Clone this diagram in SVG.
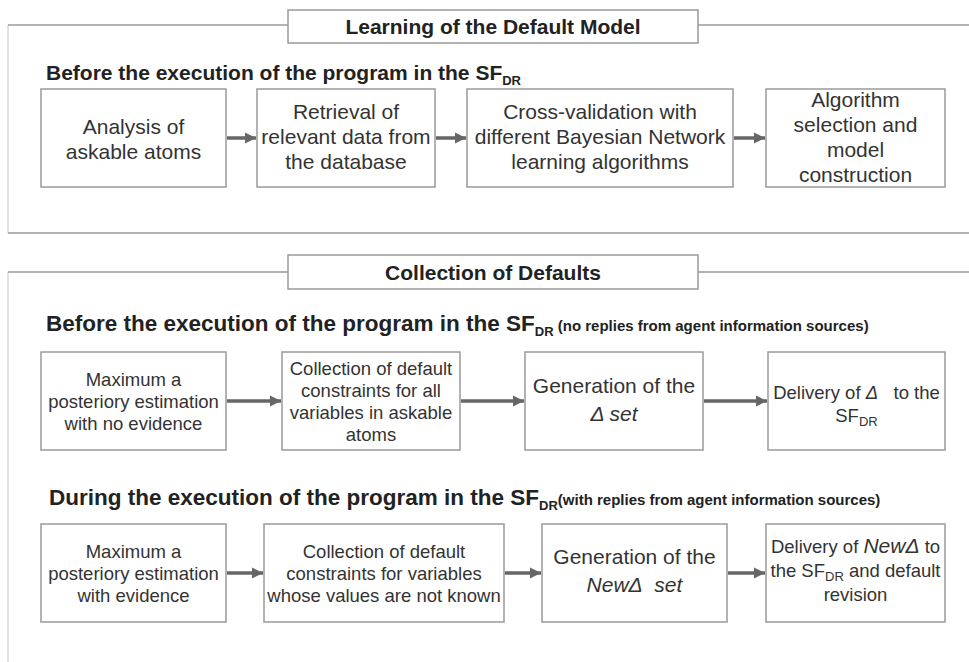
<svg xmlns="http://www.w3.org/2000/svg" width="969" height="662" viewBox="0 0 969 662">
  <style>
    .frame { fill: none; stroke: #9a9a9a; stroke-width: 1.6; }
    .side { fill: none; stroke: #d0d0d0; stroke-width: 1.2; }
    .box { fill: #ffffff; stroke: #9a9a9a; stroke-width: 1.5; }
    .title { font-family: "Liberation Sans", Arial, sans-serif; font-size: 21px; font-weight: bold; fill: #222; text-anchor: middle; }
    .head { font-family: "Liberation Sans", Arial, sans-serif; font-size: 21px; font-weight: bold; fill: #222; }
    .head2 { font-size: 22.5px; }
    .small { font-size: 15px; }
    .sub { font-size: 13px; }
    .lg { font-family: "Liberation Sans", Arial, sans-serif; font-size: 21px; fill: #333; text-anchor: middle; }
    .md { font-family: "Liberation Sans", Arial, sans-serif; font-size: 18.5px; fill: #333; text-anchor: middle; }
    .it { font-style: italic; }
    .conn { stroke: #666; stroke-width: 3.5; fill: none; marker-end: url(#ah); }
  </style>
  <defs>
    <marker id="ah" viewBox="0 0 10 10" refX="10" refY="5" markerWidth="3.2" markerHeight="3.2" markerUnits="strokeWidth" orient="auto">
      <path d="M0,0 L10,5 L0,10 z" fill="#666"/>
    </marker>
  </defs>

  <rect width="969" height="662" fill="#ffffff"/>

  <!-- Section 1 frame: Learning of the Default Model -->
  <g id="section-learning">
    <path class="side" d="M8,25 V233"/>
    <path class="frame" d="M8,25 H288 M698,25 H969 M8,233 H969"/>
    <rect class="box" x="288" y="10" width="410" height="33"/>
    <text class="title" x="493" y="34">Learning of the Default Model</text>
    <text class="head" x="46" y="80">Before the execution of the program in the SF<tspan class="sub" dy="5">DR</tspan></text>
  </g>

  <!-- Section 2 frame: Collection of Defaults -->
  <g id="section-collection">
    <path class="side" d="M8,272 V662"/>
    <path class="frame" d="M8,272 H288 M698,272 H969"/>
    <rect class="box" x="288" y="255" width="410" height="34"/>
    <text class="title" x="493" y="280">Collection of Defaults</text>
    <text class="head head2" x="46" y="331">Before the execution of the program in the SF<tspan class="sub" dy="5">DR</tspan><tspan class="small" dy="-5"> (no replies from agent information sources)</tspan></text>
    <text class="head head2" x="49" y="505">During the execution of the program in the SF<tspan class="sub" dy="5">DR</tspan><tspan class="small" dy="-5">(with replies from agent information sources)</tspan></text>
  </g>

  <!-- Row 1 -->
  <g id="n-analysis">
    <rect class="box" x="41" y="89" width="185" height="98"/>
    <text class="lg" x="133.5" y="134">Analysis of</text>
    <text class="lg" x="133.5" y="159">askable atoms</text>
  </g>
  <g id="n-retrieval">
    <rect class="box" x="257" y="89" width="178" height="98"/>
    <text class="lg" x="346" y="119">Retrieval of</text>
    <text class="lg" x="346" y="144">relevant data from</text>
    <text class="lg" x="346" y="169">the database</text>
  </g>
  <g id="n-crossval">
    <rect class="box" x="467" y="89" width="266" height="98"/>
    <text class="lg" x="600" y="119">Cross-validation with</text>
    <text class="lg" x="600" y="144">different Bayesian Network</text>
    <text class="lg" x="600" y="169">learning algorithms</text>
  </g>
  <g id="n-selection">
    <rect class="box" x="766" y="89" width="179" height="98"/>
    <text class="lg" x="855.5" y="107">Algorithm</text>
    <text class="lg" x="855.5" y="132">selection and</text>
    <text class="lg" x="855.5" y="157">model</text>
    <text class="lg" x="855.5" y="182">construction</text>
  </g>

  <!-- Row 2 -->
  <g id="n-map-noev">
    <rect class="box" x="41" y="352" width="185" height="98"/>
    <text class="md" x="133.5" y="386">Maximum a</text>
    <text class="md" x="133.5" y="408">posteriory estimation</text>
    <text class="md" x="133.5" y="430">with no evidence</text>
  </g>
  <g id="n-collect-all">
    <rect class="box" x="282" y="352" width="178" height="98"/>
    <text class="md" x="371" y="375">Collection of default</text>
    <text class="md" x="371" y="397">constraints for all</text>
    <text class="md" x="371" y="419">variables in askable</text>
    <text class="md" x="371" y="441">atoms</text>
  </g>
  <g id="n-gen-delta">
    <rect class="box" x="525" y="352" width="178" height="98"/>
    <text class="lg" x="614" y="393">Generation of the</text>
    <text class="lg it" x="614" y="421">Δ set</text>
  </g>
  <g id="n-deliver-delta">
    <rect class="box" x="768" y="352" width="177" height="98"/>
    <text class="md" x="856.5" y="399">Delivery of <tspan class="it">Δ</tspan>&#160;&#160; to the</text>
    <text class="md" x="856.5" y="422">SF<tspan class="sub" dy="4">DR</tspan></text>
  </g>

  <!-- Row 3 -->
  <g id="n-map-ev">
    <rect class="box" x="41" y="524" width="185" height="98"/>
    <text class="md" x="133.5" y="558">Maximum a</text>
    <text class="md" x="133.5" y="580">posteriory estimation</text>
    <text class="md" x="133.5" y="602">with evidence</text>
  </g>
  <g id="n-collect-unknown">
    <rect class="box" x="264" y="524" width="240" height="98"/>
    <text class="md" x="384" y="558">Collection of default</text>
    <text class="md" x="384" y="580">constraints for variables</text>
    <text class="md" x="384" y="602">whose values are not known</text>
  </g>
  <g id="n-gen-newdelta">
    <rect class="box" x="542" y="524" width="185" height="98"/>
    <text class="lg" x="634.5" y="564">Generation of the</text>
    <text class="lg it" x="634.5" y="592">NewΔ&#160; set</text>
  </g>
  <g id="n-deliver-newdelta">
    <rect class="box" x="766" y="524" width="179" height="98"/>
    <text class="md" x="855.5" y="553">Delivery of <tspan class="it" font-size="21px">NewΔ</tspan> to</text>
    <text class="md" x="855.5" y="577">the SF<tspan class="sub" dy="4">DR</tspan><tspan dy="-4"> and default</tspan></text>
    <text class="md" x="855.5" y="601">revision</text>
  </g>

  <!-- Connectors -->
  <g id="connectors">
    <line class="conn" x1="227" y1="138" x2="256" y2="138"/>
    <line class="conn" x1="436" y1="138" x2="466" y2="138"/>
    <line class="conn" x1="734" y1="138" x2="765" y2="138"/>

    <line class="conn" x1="227" y1="401" x2="281" y2="401"/>
    <line class="conn" x1="461" y1="401" x2="524" y2="401"/>
    <line class="conn" x1="704" y1="401" x2="767" y2="401"/>

    <line class="conn" x1="227" y1="573" x2="263" y2="573"/>
    <line class="conn" x1="505" y1="573" x2="541" y2="573"/>
    <line class="conn" x1="728" y1="573" x2="765" y2="573"/>
  </g>
</svg>
